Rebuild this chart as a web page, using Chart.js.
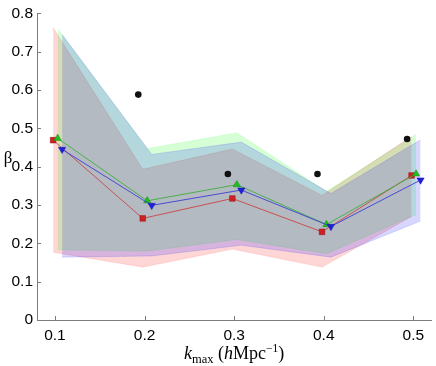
<!DOCTYPE html>
<html>
<head>
<meta charset="utf-8">
<script src="https://cdn.jsdelivr.net/npm/chart.js@4/dist/chart.umd.min.js"></script>
<style>
  body{margin:0;background:#fff;}
</style>
</head>
<body>
<canvas id="myChart" width="436" height="366"></canvas>
<script>
// data
const kmax = [0.1, 0.2, 0.3, 0.4, 0.5];
const redMean   = [0.469, 0.265, 0.317, 0.230, 0.377];
const greenMean = [0.474, 0.311, 0.353, 0.249, 0.381];
const blueMean  = [0.445, 0.299, 0.339, 0.244, 0.365];
const redUpper   = [0.762, 0.393, 0.446, 0.325, 0.479];
const redLower   = [0.177, 0.138, 0.185, 0.138, 0.270];
const greenUpper = [0.759, 0.447, 0.488, 0.335, 0.484];
const greenLower = [0.183, 0.180, 0.210, 0.173, 0.275];
const blueUpper  = [0.745, 0.432, 0.464, 0.330, 0.470];
const blueLower  = [0.164, 0.167, 0.195, 0.164, 0.258];
const blackK    = [0.2, 0.3, 0.4, 0.5];
const blackVals = [0.588, 0.381, 0.381, 0.472];
const xTickVals = [0.1, 0.2, 0.3, 0.4, 0.5];
const yTickVals = [0, 0.1, 0.2, 0.3, 0.4, 0.5, 0.6, 0.7, 0.8];

// small horizontal shifts so the series don't sit on top of each other
const dRed = -0.002, dGreen = 0.003, dBlue = 0.008, dBlack = -0.007;

const axisColor = '#7d7d7d';
const bandAlpha = 0.16;

function pts(xs, ys, dx){
  return xs.map((x,i)=>({x: x+dx, y: ys[i]}));
}

function band(up, low, dx, rgb, ord){
  return [{
    data: pts(kmax, up, dx),
    borderColor: 'rgba('+rgb+',0.22)',
    borderWidth: 0.6,
    pointRadius: 0,
    fill: '+1',
    backgroundColor: 'rgba('+rgb+','+bandAlpha+')',
    order: ord
  },{
    data: pts(kmax, low, dx),
    borderColor: 'rgba('+rgb+',0.22)',
    borderWidth: 0.6,
    pointRadius: 0,
    fill: false,
    order: ord
  }];
}

const decor = {
  id: 'decor',
  afterDraw(chart){
    const {ctx, chartArea: a} = chart;
    const x = chart.scales.x, y = chart.scales.y;
    ctx.save();
    // inward ticks
    ctx.strokeStyle = axisColor;
    ctx.lineWidth = 1;
    ctx.beginPath();
    xTickVals.forEach(v=>{
      const px = Math.round(x.getPixelForValue(v))+0.5;
      ctx.moveTo(px, a.bottom); ctx.lineTo(px, a.bottom-4);
    });
    yTickVals.forEach(v=>{
      const py = Math.round(y.getPixelForValue(v))+0.5;
      ctx.moveTo(a.left, py); ctx.lineTo(a.left+4, py);
    });
    ctx.stroke();

    // y label
    ctx.fillStyle = '#000';
    ctx.textAlign = 'center';
    ctx.textBaseline = 'middle';
    ctx.font = '17px "Liberation Serif"';
    ctx.fillText('β', 8, (a.top+a.bottom)/2 - 8);

    // x label: k_max (h Mpc^-1)
    const parts = [
      {t:'k',   f:'italic 18px "Liberation Serif"', dy:0},
      {t:'max', f:'12.5px "Liberation Serif"', dy:4},
      {t:' (',  f:'18px "Liberation Serif"', dy:0},
      {t:'h',   f:'italic 18px "Liberation Serif"', dy:0},
      {t:'Mpc', f:'18px "Liberation Serif"', dy:0},
      {t:'\u22121', f:'11.5px "Liberation Serif"', dy:-7},
      {t:')',   f:'18px "Liberation Serif"', dy:0}
    ];
    let w = 0;
    parts.forEach(p=>{ ctx.font = p.f; p.w = ctx.measureText(p.t).width; w += p.w; });
    let cx = (a.left+a.right)/2 - w/2;
    const base = a.bottom + 39;
    ctx.textAlign = 'left';
    ctx.textBaseline = 'alphabetic';
    parts.forEach(p=>{
      ctx.font = p.f;
      ctx.fillText(p.t, cx, base + p.dy);
      cx += p.w;
    });
    ctx.restore();
  }
};

const ctx = document.getElementById('myChart');

new Chart(ctx, {
  type: 'line',
  data: {
    datasets: [
      {
        data: pts(blackK, blackVals, dBlack),
        showLine: false,
        pointRadius: 3.3,
        pointBackgroundColor: '#111',
        pointBorderColor: '#111',
        pointBorderWidth: 0,
        order: 0
      },
      {
        data: pts(kmax, blueMean, dBlue),
        borderColor: '#3d3dd6',
        borderWidth: 0.9,
        pointStyle: 'triangle',
        pointRotation: 180,
        pointRadius: 4.2,
        pointBackgroundColor: '#1f1fdc',
        pointBorderColor: '#1414a8',
        pointBorderWidth: 0.5,
        order: 1
      },
      {
        data: pts(kmax, greenMean, dGreen),
        borderColor: '#3fae3f',
        borderWidth: 0.9,
        pointStyle: 'triangle',
        pointRadius: 4.2,
        pointBackgroundColor: '#1fbf1f',
        pointBorderColor: '#158a15',
        pointBorderWidth: 0.5,
        order: 2
      },
      {
        data: pts(kmax, redMean, dRed),
        borderColor: '#c84646',
        borderWidth: 0.9,
        pointStyle: 'rect',
        pointRadius: 4,
        pointBackgroundColor: '#cc2222',
        pointBorderColor: '#981414',
        pointBorderWidth: 0.5,
        order: 3
      },
      // bands: red at the bottom, blue on top
      ...band(redUpper, redLower, dRed, '255,0,0', 12),
      ...band(greenUpper, greenLower, dGreen, '0,255,0', 11),
      ...band(blueUpper, blueLower, dBlue, '0,0,255', 10)
    ]
  },
  options: {
    responsive: false,
    animation: false,
    layout: { padding: { top: 11, right: 3, left: 0, bottom: 0 } },
    plugins: {
      legend: { display: false },
      tooltip: { enabled: false },
      title: { display: false }
    },
    scales: {
      x: {
        type: 'linear',
        min: 0.08,
        max: 0.52,
        afterBuildTicks: s => { s.ticks = xTickVals.map(v=>({value:v})); },
        afterFit: s => { s.height = 46; },
        grid: { display: false, drawTicks: false },
        border: { display: true, color: axisColor, width: 1 },
        ticks: {
          color: '#000',
          padding: 6,
          font: { family: '"Liberation Sans", Arial', size: 15.5 },
          callback: v => v.toFixed(1)
        }
      },
      y: {
        type: 'linear',
        min: 0,
        max: 0.8,
        afterBuildTicks: s => { s.ticks = yTickVals.map(v=>({value:v})); },
        afterFit: s => { s.width = 37; },
        grid: { display: false, drawTicks: false },
        border: { display: true, color: axisColor, width: 1 },
        ticks: {
          color: '#000',
          padding: 4,
          font: { family: '"Liberation Sans", Arial', size: 15.5 },
          callback: v => v === 0 ? '0' : v.toFixed(1)
        }
      }
    }
  },
  plugins: [decor]
});
</script>
</body>
</html>
